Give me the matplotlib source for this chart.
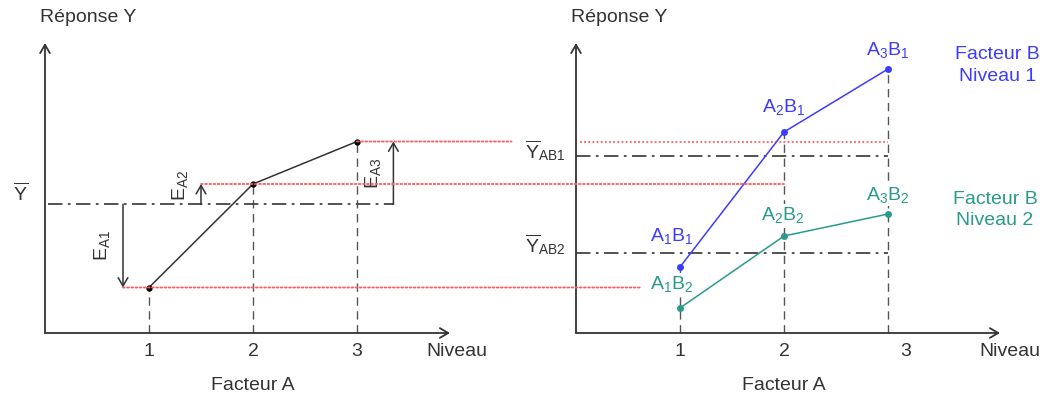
"""Main effect of factor A (left) and A x B interaction (right), schematic response plots."""
import matplotlib
matplotlib.use("Agg")
import matplotlib.pyplot as plt  # noqa: E402
import numpy as np
from matplotlib.patches import ConnectionPatch

plt.rcParams["font.family"] = ["Liberation Sans", "DejaVu Sans"]
plt.rcParams["mathtext.fontset"] = "custom"
plt.rcParams["mathtext.rm"] = "Liberation Sans"
plt.rcParams["mathtext.it"] = "Liberation Sans"
plt.rcParams["mathtext.bf"] = "Liberation Sans:bold"

# --- data (arbitrary response units) ---
levels = np.array([1, 2, 3])
level_labels = ["1", "2", "3"]
resp_b1 = np.array([6.6, 20.1, 26.4])   # factor B, level 1
resp_b2 = np.array([2.5, 9.7, 11.9])    # factor B, level 2
resp_a = (resp_b1 + resp_b2) / 2        # factor A alone (mean over B)
ybar = resp_a.mean()
ybar_b1 = resp_b1.mean()
ybar_b2 = resp_b2.mean()

labels_b1 = [r"A$_1$B$_1$", r"A$_2$B$_1$", r"A$_3$B$_1$"]
labels_b2 = [r"A$_1$B$_2$", r"A$_2$B$_2$", r"A$_3$B$_2$"]
effect_labels = [r"E$_{\mathrm{A1}}$", r"E$_{\mathrm{A2}}$", r"E$_{\mathrm{A3}}$"]

# --- style ---
INK = "#333333"
GREY = "#555555"
RED = "#ff5a5a"
BLUE = "#3c3cff"
TEAL = "#2a9a8c"
FS = 14
DOT = (0, (1, 1.3))
DASH = (0, (6, 4))
DASHDOT = (0, (8, 3, 1.5, 3))
ARROW = "->,head_length=0.6,head_width=0.35"

W, H = 1047, 396
PX = 104  # pixels per level
fig = plt.figure(figsize=(W / 100, H / 100), dpi=100)
ax1 = fig.add_axes([45 / W, 63 / H, 405 / W, 290 / H])
ax2 = fig.add_axes([576 / W, 63 / H, 424 / W, 290 / H])
ax1.set_xlim(0, 405 / PX)
ax2.set_xlim(0, 424 / PX)
niveau_x = [3.96, 4.17]
for ax, nx in zip((ax1, ax2), niveau_x):
    ax.set_ylim(0, 29)
    ax.axis("off")
    xmax = ax.get_xlim()[1]
    ax.annotate("", xy=(0, 29), xytext=(0, 0), annotation_clip=False,
                arrowprops=dict(arrowstyle=ARROW, lw=1.3, color=INK, shrinkA=0, shrinkB=0))
    ax.annotate("", xy=(xmax, 0), xytext=(0, 0), annotation_clip=False,
                arrowprops=dict(arrowstyle=ARROW, lw=1.3, color=INK, shrinkA=0, shrinkB=0))
    ax.text(-0.05, 31.5, "Réponse Y", fontsize=FS, color=INK, ha="left", va="center")
    ax.text(nx, -1.9, "Niveau", fontsize=FS, color=INK, ha="center", va="center")
    ax.text(2, -5.2, "Facteur A", fontsize=FS, color=INK, ha="center", va="center")

# ---- left panel: effect of factor A ----
for lv, lab in zip(levels, level_labels):
    ax1.text(lv, -1.9, lab, fontsize=FS, color=INK, ha="center", va="center")
ax1.vlines(levels, 0, resp_a, colors=GREY, lw=1.0, linestyles=DASH, clip_on=False)
ax1.plot(levels, resp_a, color=INK, lw=1.1, marker="o", ms=3.5, mfc="black",
         mec="black", clip_on=False, zorder=4)
ax1.plot([0.03, 3.35], [ybar, ybar], color="#444444", lw=1.3, ls=DASHDOT, clip_on=False)
ax1.text(-0.24, ybar + 1.1, r"$\overline{\mathrm{Y}}$", fontsize=FS, color=INK,
         ha="center", va="center")

arrow_x = [0.75, 1.5, 3.35]
for i, (xa, lab) in enumerate(zip(arrow_x, effect_labels)):
    ax1.annotate("", xy=(xa, resp_a[i]), xytext=(xa, ybar), annotation_clip=False,
                 arrowprops=dict(arrowstyle=ARROW, lw=1.1, color=INK, shrinkA=0, shrinkB=0))
    ax1.text(xa - 0.2, (resp_a[i] + ybar) / 2 + (0.9 if i == 1 else 0), lab,
             fontsize=FS, color=INK, rotation=90, ha="center", va="center")

# ---- right panel: interaction A x B ----
shift = [0, 0, 0.17]
for lv, lab, s in zip(levels, level_labels, shift):
    ax2.text(lv + s, -1.9, lab, fontsize=FS, color=INK, ha="center", va="center")
ax2.vlines(levels, 0, np.maximum(resp_b1, resp_b2), colors=GREY, lw=1.0,
           linestyles=DASH, clip_on=False)
for ym in (ybar_b1, ybar_b2):
    ax2.plot([0, 3], [ym, ym], color="#444444", lw=1.3, ls=DASHDOT, clip_on=False)
ax2.text(-0.1, ybar_b1 + 0.5, r"$\overline{\mathrm{Y}}_{\mathrm{AB1}}$", fontsize=FS,
         color=INK, ha="right", va="center")
ax2.text(-0.1, ybar_b2 + 0.8, r"$\overline{\mathrm{Y}}_{\mathrm{AB2}}$", fontsize=FS,
         color=INK, ha="right", va="center")

ax2.plot(levels, resp_b1, color=BLUE, lw=1.1, marker="o", ms=4, clip_on=False, zorder=4)
ax2.plot(levels, resp_b2, color=TEAL, lw=1.1, marker="o", ms=4, clip_on=False, zorder=4)
off_b1 = [(-6, 22), (0, 18), (0, 14)]
off_b2 = [(-6, 17), (-1, 15), (0, 14)]
for lv, yv, lab, off in zip(levels, resp_b1, labels_b1, off_b1):
    ax2.annotate(lab, (lv, yv), xytext=off, textcoords="offset points", fontsize=FS,
                 color=BLUE, ha="center", va="center")
for lv, yv, lab, off in zip(levels, resp_b2, labels_b2, off_b2):
    ax2.annotate(lab, (lv, yv), xytext=off, textcoords="offset points", fontsize=FS,
                 color=TEAL, ha="center", va="center", zorder=5,
                 bbox=dict(boxstyle="square,pad=0.05", fc="white", ec="none"))
ax2.text(4.05, 26.75, "Facteur B\nNiveau 1", fontsize=FS, color=BLUE, ha="center",
         va="center", linespacing=1.35)
ax2.text(4.03, 12.3, "Facteur B\nNiveau 2", fontsize=FS, color=TEAL, ha="center",
         va="center", linespacing=1.35)

# ---- red projections of the factor-A responses onto the right panel ----
links = [((3, resp_a[2]), (-0.62, resp_a[2])),
         ((1.5, resp_a[1]), (2, resp_a[1])),
         ((0.75, resp_a[0]), (0.62, resp_a[0]))]
for pa, pb in links:
    con = ConnectionPatch(xyA=pa, coordsA=ax1.transData, xyB=pb, coordsB=ax2.transData,
                          color=RED, lw=1.3, linestyle=DOT)
    fig.add_artist(con)
ax2.plot([0.04, 3], [resp_a[2], resp_a[2]], color=RED, lw=1.3, ls=DOT, clip_on=False)

fig.savefig("out.png", dpi=100)
plt.close(fig)
